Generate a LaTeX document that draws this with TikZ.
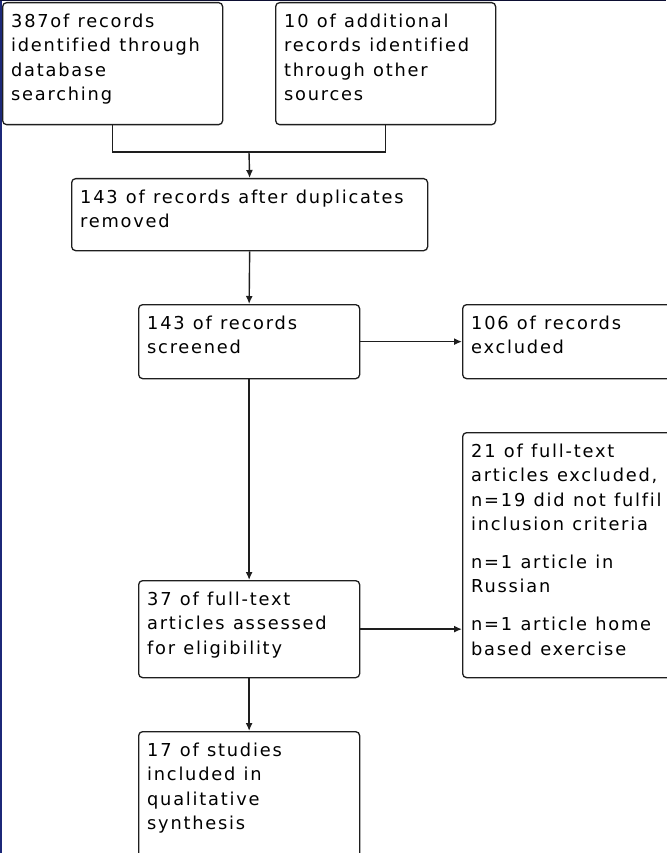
\documentclass[tikz,border=0pt]{standalone}
\usepackage{fontspec}
\setmainfont{DejaVu Sans}[LetterSpace=10, Ligatures=NoCommon]
\usetikzlibrary{arrows.meta}
\definecolor{framenavy}{RGB}{28,40,120}
\definecolor{topnavy}{RGB}{12,14,50}
\definecolor{edgegray}{RGB}{30,30,30}
\newcommand{\stagefont}{\fontsize{17.8}{24.2}\selectfont\spaceskip 8.3pt plus 2pt\relax}

\begin{document}
\begin{tikzpicture}[x=1pt, y=-1pt,
    stage/.style 2 args = {
        draw=edgegray,
        line width=1.3pt,
        rounded corners=4pt,
        anchor=north west,
        align=flush left,
        inner xsep=8.5pt,
        inner ysep=0pt,
        text height=25pt,
        text width=#1,
        text depth=#2,
        text=black,
        font=\stagefont
    },
    flow/.style = {
        line width=1.4pt,
        draw=edgegray,
        -{Latex[length=8pt,width=7pt]}
    },
    link/.style = {
        line width=1.4pt,
        draw=edgegray
    }
]
    \useasboundingbox (0,0) rectangle (666,853);
    % page frame
    \fill[framenavy] (0,0) rectangle (1.5,853);
    \fill[topnavy] (0,0) rectangle (666,1.2);

    % identification
    \node[stage={203pt}{97pt}] (db) at (2,2) {387of records\\identified through\\database\\searching};
    \node[stage={203pt}{97pt}] (other) at (275,2) {10 of additional\\records identified\\through other\\sources};
    \node[stage={339pt}{47pt}] (dedup) at (71,178) {143 of records after duplicates\\removed};

    % screening
    \node[stage={204pt}{49pt}] (screen) at (138,304) {143 of records\\screened};
    \node[stage={204pt}{49pt}] (drop) at (462,304) {106 of records\\excluded};

    % eligibility
    \node[stage={204pt}{72pt}] (full) at (138,580) {37 of full-text\\articles assessed\\for eligibility};
    \node[stage={204pt}{220pt}] (fulldrop) at (462,432) {21 of full-text\\articles excluded,\\n=19 did not fulfil\\inclusion criteria\\[14pt]n=1 article in\\Russian\\[14pt]n=1 article home\\based exercise};

    % included
    \node[stage={204pt}{115pt}] (incl) at (138,731) {17 of studies\\included in\\qualitative\\synthesis};

    \coordinate (merge) at (249,152);
    \draw[link] (db.south) |- (merge) -| (other.south);
    \draw[flow] (merge) -- (dedup.north);
    \draw[flow] (dedup.south) -- (screen.north);
    \draw[flow] (screen.east) -- (drop.west);
    \draw[flow] (screen.south) -- (full.north);
    \draw[flow] (full.east) -- (full.east -| fulldrop.west);
    \draw[flow] (full.south) -- (incl.north);
\end{tikzpicture}
\end{document}
